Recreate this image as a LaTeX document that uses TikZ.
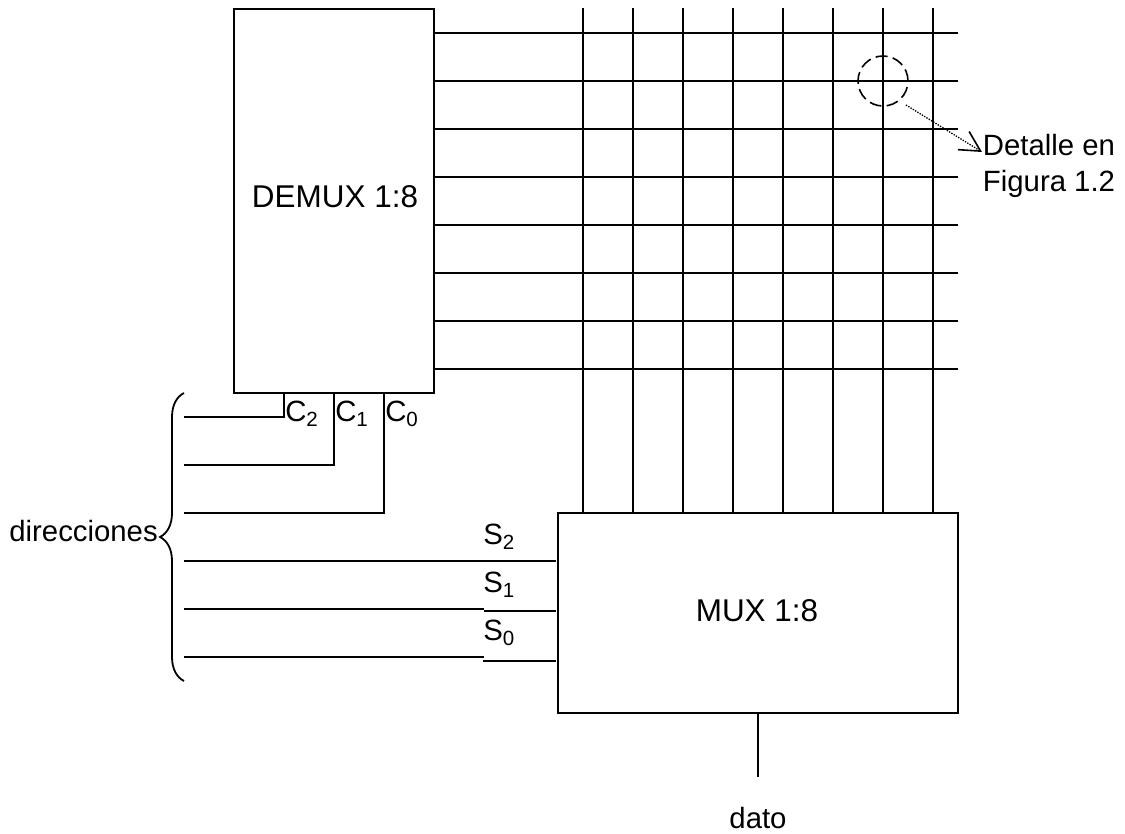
\documentclass[tikz,border=0pt]{standalone}
\usepackage{fontspec}
\setmainfont{Liberation Sans}
\usetikzlibrary{arrows.meta, decorations.pathreplacing, positioning}

\tikzset{
    wire/.style={line width=1.35pt},
    block/.style={draw, line width=1.35pt, inner sep=0pt},
    blocktxt/.style={inner sep=0pt, font=\fontsize{23.6}{28}\selectfont},
    lbl/.style={inner sep=0pt, font=\fontsize{22}{27.5}\selectfont},
}

\begin{document}
\begin{tikzpicture}[x=0.75pt, y=-0.75pt]
        \useasboundingbox (0,0) rectangle (1125,834);

        \node[block, minimum width=150pt, minimum height=288pt] (demux) at (334,201) {};
        \node[block, minimum width=300pt, minimum height=150pt] (mux) at (758,613) {};
        \node[blocktxt] (demuxtxt) at (335,197) {DEMUX 1:8};
        \node[blocktxt] (muxtxt) at (757,611) {MUX 1:8};

        % filas y columnas
        \foreach \i in {1,...,8} {
            \coordinate (fl\i) at (434,{33+48*(\i-1)});
            \coordinate (fr\i) at (958,{33+48*(\i-1)});
            \coordinate (ct\i) at ({583+50*(\i-1)},8);
            \coordinate (cb\i) at ({583+50*(\i-1)},513);
            \draw[wire] (fl\i) -- (fr\i);
            \draw[wire] (ct\i) -- (cb\i);
        }

        \coordinate (c2top) at (284,393);
        \coordinate (c1top) at (334,393);
        \coordinate (c0top) at (384,393);
        \coordinate (a1) at (184,417);
        \coordinate (a2) at (184,465);
        \coordinate (a3) at (184,513);
        \coordinate (a4) at (184,561);
        \coordinate (a5) at (184,609);
        \coordinate (a6) at (184,657);
        \coordinate (s2end) at (556,561);
        \coordinate (s1mid) at (484,609);
        \coordinate (s1a) at (484,611);
        \coordinate (s1end) at (556,611);
        \coordinate (s0mid) at (484,657);
        \coordinate (s0a) at (483,661);
        \coordinate (s0end) at (556,661);

        \draw[wire] (c2top) |- (a1);
        \draw[wire] (c1top) |- (a2);
        \draw[wire] (c0top) |- (a3);
        \draw[wire] (a4) -- (s2end);
        \draw[wire] (a5) -- (s1mid);
        \draw[wire] (s1a) -- (s1end);
        \draw[wire] (a6) -- (s0mid);
        \draw[wire] (s0a) -- (s0end);

        \node[lbl, anchor=west] (c2) at (285,414) {C\textsubscript{2}};
        \node[lbl, anchor=west] (c1) at (335,414) {C\textsubscript{1}};
        \node[lbl, anchor=west] (c0) at (385,414) {C\textsubscript{0}};
        \node[lbl, anchor=west] (s2) at (483,537) {S\textsubscript{2}};
        \node[lbl, anchor=west] (s1) at (483,585) {S\textsubscript{1}};
        \node[lbl, anchor=west] (s0) at (483,633) {S\textsubscript{0}};

        % llaves
        \coordinate (bt) at (184,393);
        \coordinate (bb) at (184,681);
        \draw[wire, decorate, decoration={brace, amplitude=18pt}] (bb) -- (bt);
        \node[lbl, anchor=east] (dir) at (158,531) {direcciones};

        \coordinate (dbottom) at (758,777);
        \draw[wire] (mux.south) -- (dbottom);
        \node[lbl] (dato) at (758,818) {dato};

        % detalle
        \node[draw, circle, line width=1.2pt, dash pattern=on 9pt off 4pt, minimum size=37.5pt, inner sep=0pt] (det) at (883,81) {};
        \node[lbl, align=center] (txt) at (1049,166) {Detalle en\\Figura 1.2};
        \coordinate (from) at (906,105);
        \coordinate (tip) at (982,152);
        \draw[densely dotted, line width=1pt, -{Straight Barb[length=15pt, width=16pt, line width=1.2pt]}] (from) -- (tip);
\end{tikzpicture}
\end{document}
